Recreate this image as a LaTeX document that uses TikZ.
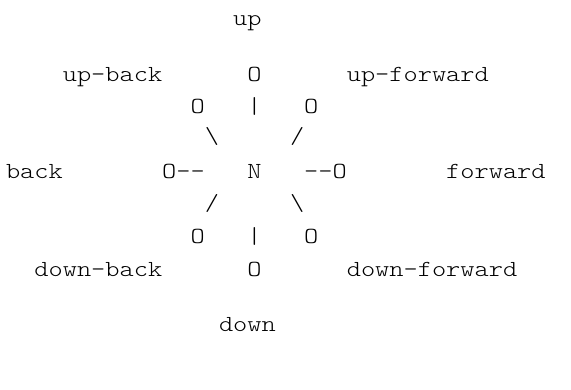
\documentclass[tikz,border=0pt]{standalone}
\usepackage{fontspec}
\setmonofont{Latin Modern Mono Light}[FakeStretch=1.176]
\begin{document}
\begin{tikzpicture}[
  cell/.style={anchor=base west, inner sep=0pt, outer sep=0pt,
    font=\ttfamily\fontsize{23bp}{33bp}\selectfont, text=black}]
\useasboundingbox (0bp,0bp) rectangle (571bp,390bp);
% character grid: x counts columns of 14.2bp, y is the baseline height in bp
\begin{scope}[shift={(6bp,0bp)}, x=14.2bp, y=1bp]
  % top label
  \node[cell] (lup) at (16,365) {up};
  % upper diagonal labels and the top neighbour
  \node[cell] (lupback) at (4,309) {up-back};
  \node[cell] (oup) at (17,309) {O};
  \node[cell] (lupfwd) at (24,309) {up-forward};
  % upper ring
  \node[cell] (oupback) at (13,277) {O};
  \node[cell] (barup) at (17,277) {|};
  \node[cell] (oupfwd) at (21,277) {O};
  % upper diagonal links
  \node[cell] (slupback) at (14,247) {\textbackslash};
  \node[cell] (slupfwd) at (20,247) {/};
  % middle line with the centre N
  \node[cell] (lback) at (0,212) {back};
  \node[cell] (oback) at (11,212) {O};
  \node[cell] (dashback) at (12,212) {--};
  \node[cell] (n) at (17,212) {N};
  \node[cell] (dashfwd) at (21,212) {--};
  \node[cell] (ofwd) at (23,212) {O};
  \node[cell] (lfwd) at (31,212) {forward};
  % lower diagonal links
  \node[cell] (sldownback) at (14,180) {/};
  \node[cell] (sldownfwd) at (20,180) {\textbackslash};
  % lower ring
  \node[cell] (odownback) at (13,147) {O};
  \node[cell] (bardown) at (17,147) {|};
  \node[cell] (odownfwd) at (21,147) {O};
  % lower diagonal labels and the bottom neighbour
  \node[cell] (ldownback) at (2,114) {down-back};
  \node[cell] (odown) at (17,114) {O};
  \node[cell] (ldownfwd) at (24,114) {down-forward};
  % bottom label
  \node[cell] (ldown) at (15,59) {down};
\end{scope}
\end{tikzpicture}
\end{document}
